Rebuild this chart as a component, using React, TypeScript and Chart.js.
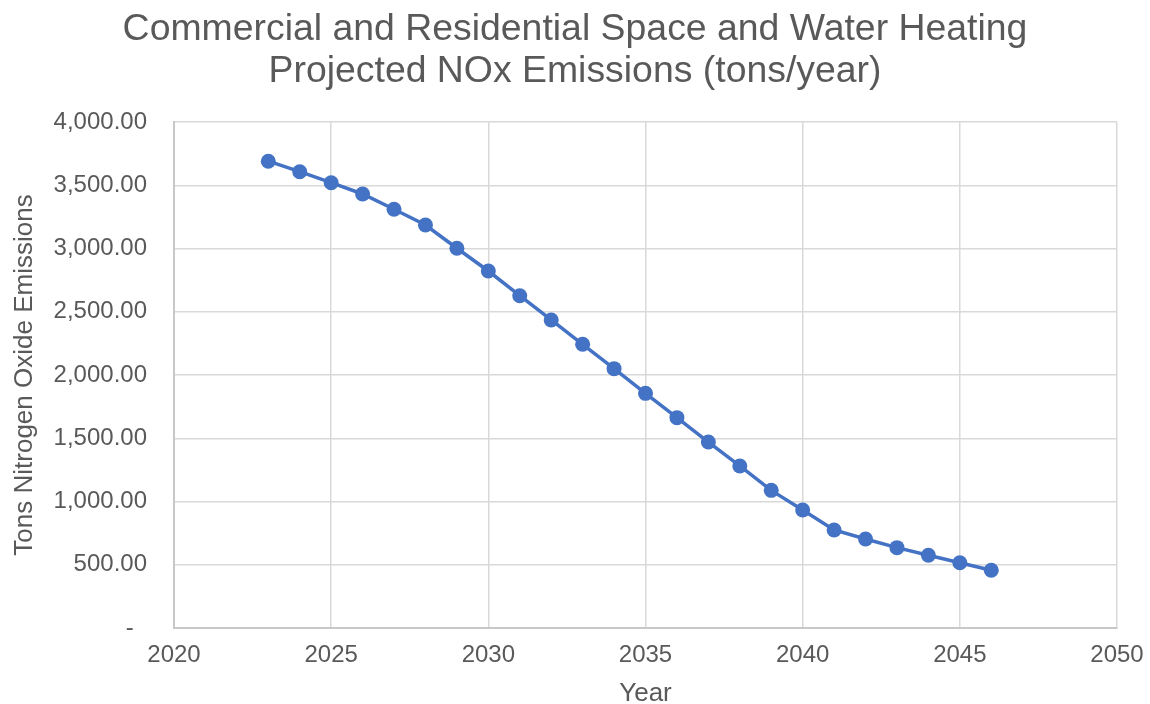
import React, { useEffect, useRef } from 'react';
import { Chart, registerables } from 'chart.js';

Chart.register(...registerables);

const titleLines = ['Commercial and Residential Space and Water Heating', 'Projected NOx Emissions (tons/year)'];
const xAxisTitle = 'Year';
const yAxisTitle = 'Tons Nitrogen Oxide Emissions';
const years = [2023, 2024, 2025, 2026, 2027, 2028, 2029, 2030, 2031, 2032, 2033, 2034, 2035, 2036, 2037, 2038, 2039, 2040, 2041, 2042, 2043, 2044, 2045, 2046];
const emissions = [3690, 3607, 3520, 3431, 3310, 3186, 3002, 2822, 2627, 2435, 2243, 2050, 1855, 1663, 1470, 1281, 1088, 933, 775, 704, 635, 575, 516, 456];
const xRange = [2020, 2050];
const xStep = 5;
const yRange = [0, 4000];
const yStep = 500;

const FONT = '"Liberation Sans", Arial, sans-serif';
const TEXT = '#595959';
const GRID = '#d9d9d9';
const BLUE = '#4472C4';

export default function App() {
  const ref = useRef<HTMLCanvasElement | null>(null);

  useEffect(() => {
    if (!ref.current) return;
    const chart = new Chart(ref.current, {
      type: 'line',
      data: {
        datasets: [
          {
            label: 'NOx',
            data: years.map((y, i) => ({ x: y, y: emissions[i] })),
            borderColor: BLUE,
            backgroundColor: BLUE,
            borderWidth: 3.5,
            pointRadius: 7.5,
            pointBackgroundColor: BLUE,
            pointBorderColor: BLUE,
            pointBorderWidth: 0,
            tension: 0,
            fill: false,
          },
        ],
      },
      options: {
        animation: false,
        responsive: true,
        maintainAspectRatio: false,
        devicePixelRatio: 1,
        layout: { padding: { left: 0, right: 0, top: 0, bottom: 0 } },
        plugins: {
          legend: { display: false },
          tooltip: { enabled: false },
          title: {
            display: true,
            text: titleLines,
            color: TEXT,
            font: { family: FONT, size: 37.4, weight: 'normal', lineHeight: 42 / 37.4 },
            padding: { top: 9, bottom: 29 },
          },
        },
        scales: {
          x: {
            type: 'linear',
            min: xRange[0],
            max: xRange[1],
            afterFit: (s: any) => {
              s.height = 76;
              s.paddingRight = 33;
              s.paddingLeft = 0;
            },
            ticks: {
              stepSize: xStep,
              color: TEXT,
              font: { family: FONT, size: 24 },
              padding: 13,
              maxRotation: 0,
              callback: (v: any) => String(v),
            },
            grid: { color: GRID, lineWidth: 1.5, drawTicks: false },
            border: { color: '#c8c8c8', width: 2 },
            title: {
              display: true,
              text: xAxisTitle,
              color: TEXT,
              font: { family: FONT, size: 26, lineHeight: 1 },
              padding: { top: 0, bottom: -3 },
            },
          },
          y: {
            type: 'linear',
            min: yRange[0],
            max: yRange[1],
            afterFit: (s: any) => {
              s.width = 174;
            },
            ticks: {
              stepSize: yStep,
              color: TEXT,
              font: { family: FONT, size: 24 },
              padding: 27,
              callback: (v: any) =>
                Number(v) === 0
                  ? '-  '
                  : Number(v).toLocaleString('en-US', { minimumFractionDigits: 2, maximumFractionDigits: 2 }),
            },
            grid: { color: GRID, lineWidth: 1.5, drawTicks: false },
            border: { color: '#c8c8c8', width: 2 },
            title: {
              display: true,
              text: yAxisTitle,
              color: TEXT,
              font: { family: FONT, size: 26, lineHeight: 1 },
              padding: { top: 12, bottom: 0 },
            },
          },
        },
      },
    });
    return () => chart.destroy();
  }, []);

  return (
    <div style={{ position: 'fixed', left: 0, top: 0, width: 1150, height: 704, background: '#ffffff' }}>
      <canvas ref={ref} />
    </div>
  );
}
